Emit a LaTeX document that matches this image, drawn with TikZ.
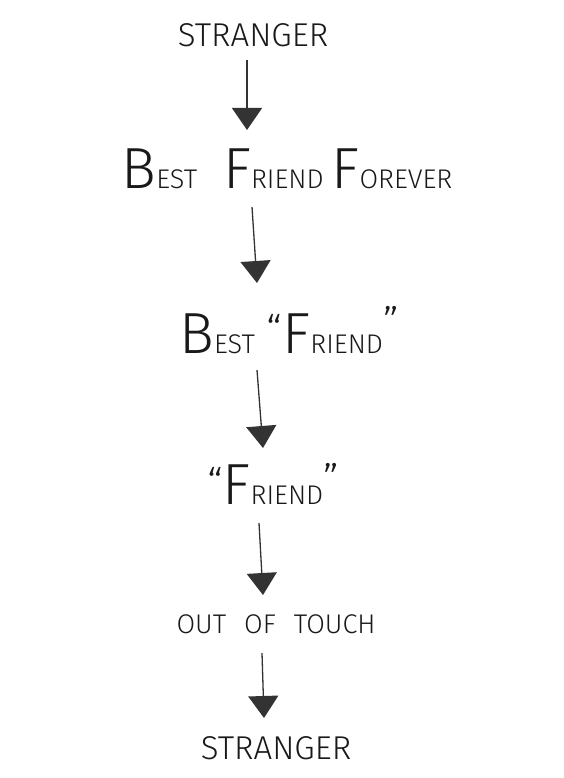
\documentclass[tikz,border=0pt]{standalone}
\usepackage{fontspec}
\setmainfont{Fira Sans}[UprightFont=* Light]
\usetikzlibrary{arrows.meta}

\newcommand{\tallcap}[1]{{\fontsize{58}{58}\selectfont #1}}
\newcommand{\lowcaps}[1]{{\fontsize{27}{27}\selectfont #1}}
\newcommand{\quotemark}[2]{\raisebox{#1}{\fontsize{42}{42}\selectfont #2}}

\tikzset{
  word/.style={anchor=base, inner sep=0pt, text=black!90},
  pointer/.style={draw=black!80, line width=1.3pt,
    -{Triangle[width=30pt,length=22pt]}}
}

\begin{document}
\begin{tikzpicture}[x=1pt,y=-1pt]
        \useasboundingbox (0,0) rectangle (563,778);

        \node[word, font=\fontsize{33}{33}\selectfont] (strangerA) at (253,47) {STRANGER};
        \node[word] (bff) at (287,188) {\tallcap{B}\lowcaps{EST}\hspace{26pt}\tallcap{F}\lowcaps{RIEND}\hspace{8pt}\tallcap{F}\lowcaps{OREVER}};
        \node[word] (bestfriend) at (289,353) {\tallcap{B}\lowcaps{EST}\hspace{12pt}\quotemark{8pt}{“}\tallcap{F}\lowcaps{RIEND}\quotemark{16pt}{”}};
        \node[word] (friend) at (273,504) {\quotemark{6pt}{“}\tallcap{F}\lowcaps{RIEND}\quotemark{10pt}{”}};
        \node[word, font=\fontsize{27}{27}\selectfont] (outoftouch) at (276,633) {OUT\hspace{18pt}OF\hspace{18pt}TOUCH};
        \node[word, font=\fontsize{33}{33}\selectfont] (strangerB) at (276,759) {STRANGER};

        \coordinate (a1s) at (247,60);
        \coordinate (a1e) at (247,130);
        \coordinate (a2s) at (252,207);
        \coordinate (a2e) at (257,283);
        \coordinate (a3s) at (257,370);
        \coordinate (a3e) at (263,448);
        \coordinate (a4s) at (259,523);
        \coordinate (a4e) at (263,595);
        \coordinate (a5s) at (262,653);
        \coordinate (a5e) at (264,718);

        % stranger -> best friend forever
        \draw[pointer] (a1s) -- (a1e);
        % best friend forever -> best "friend"
        \draw[pointer] (a2s) -- (a2e);
        % best "friend" -> "friend"
        \draw[pointer] (a3s) -- (a3e);
        % "friend" -> out of touch
        \draw[pointer] (a4s) -- (a4e);
        % out of touch -> stranger
        \draw[pointer] (a5s) -- (a5e);
    \end{tikzpicture}
\end{document}
